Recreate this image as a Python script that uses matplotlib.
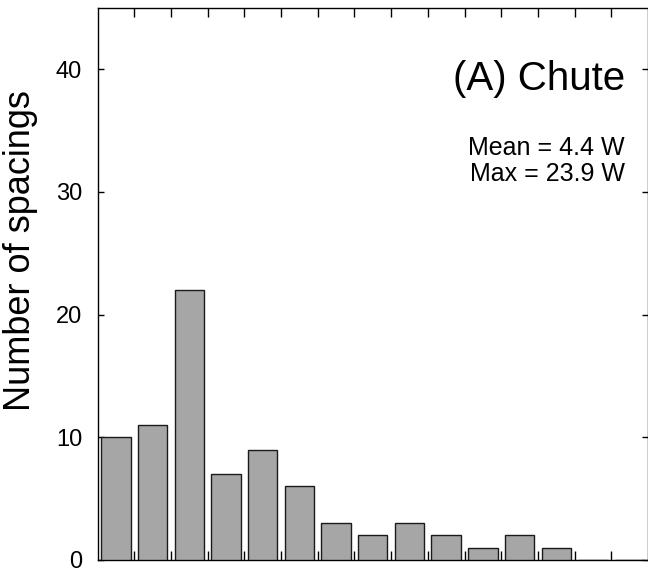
import numpy as np
import matplotlib
matplotlib.use('Agg')
import matplotlib.pyplot as plt

plt.rcParams['font.family'] = ['Liberation Sans', 'DejaVu Sans']

# 2 W bins of the spacing histogram
bin_edges = np.arange(0, 32, 2)
counts = [10, 11, 22, 7, 9, 6, 3, 2, 3, 2, 1, 2, 1, 0, 0]
yticks = [0, 10, 20, 30, 40]
title = '(A) Chute'
stats = 'Mean = 4.4 W\nMax = 23.9 W'

fig = plt.figure(figsize=(6.48, 5.71), dpi=100)
ax = fig.add_axes([0.1505, 0.0193, 0.8495, 0.9667])

centers = bin_edges[:-1] + 1.0
ax.bar(centers, counts, width=1.6, color='#a6a6a6', edgecolor='#1a1a1a', linewidth=1.0, zorder=3)

ax.set_xlim(0, 30)
ax.set_ylim(0, 45)
ax.set_xticks(bin_edges[1:-1])
ax.set_xticklabels([])
ax.set_yticks(yticks)
ax.tick_params(axis='x', direction='in', length=6.5, width=1, top=True, bottom=True)
ax.tick_params(axis='y', direction='in', length=4.5, width=1, left=True, right=True,
               labelsize=17, pad=11)
for s in ax.spines.values():
    s.set_linewidth(1)

ax.set_ylabel('Number of spacings', fontsize=26)
ax.yaxis.set_label_coords(-0.108, 0.56)

ax.text(0.958, 0.872, title, transform=ax.transAxes, ha='right', va='center', fontsize=29)
ax.text(0.958, 0.722, stats, transform=ax.transAxes, ha='right', va='center', fontsize=18,
        linespacing=1.1)

fig.savefig('out.png', dpi=100)
